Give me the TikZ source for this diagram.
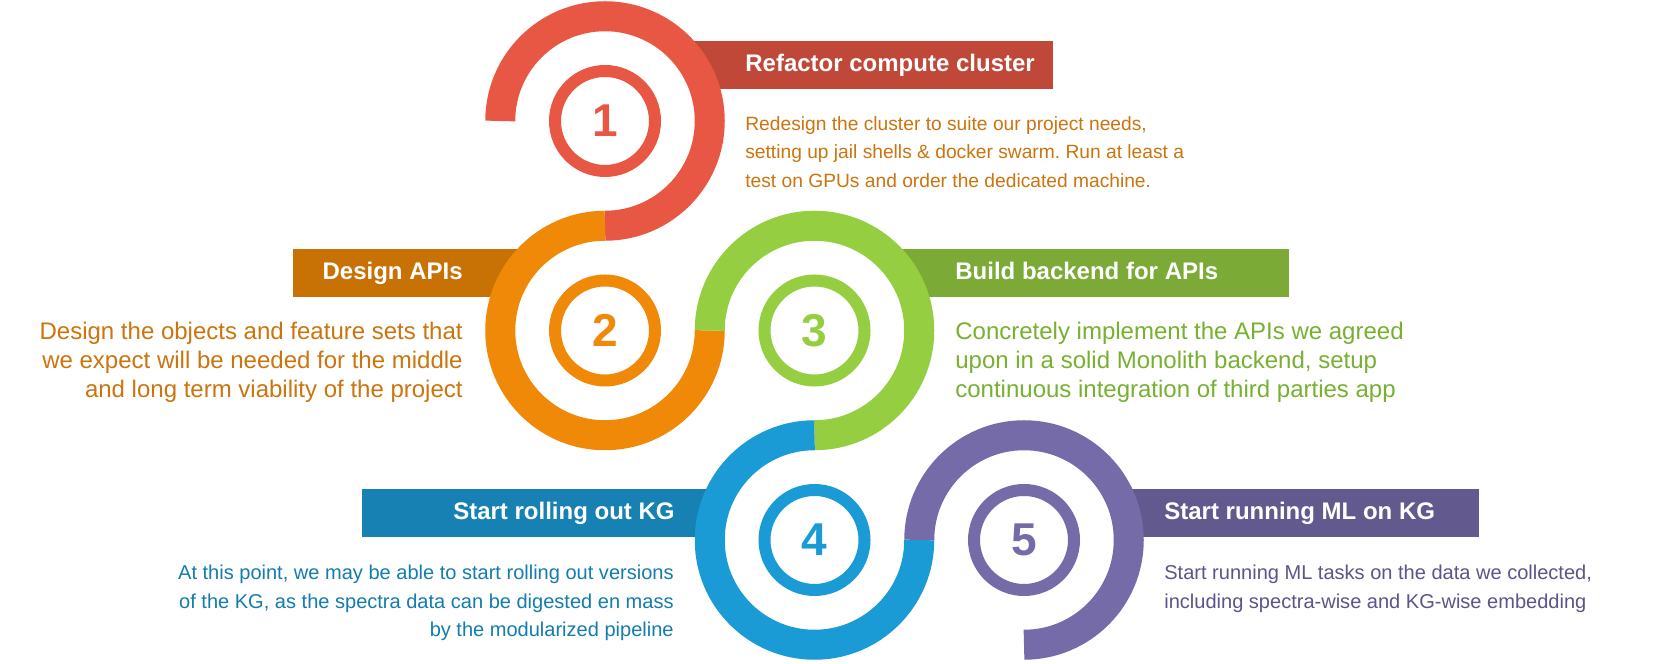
\documentclass[tikz,border=0pt]{standalone}
\usepackage{fontspec}
\setmainfont{Liberation Sans}
\frenchspacing
\usetikzlibrary{positioning}
\definecolor{redarc}{RGB}{232,87,68}
\definecolor{redbar}{RGB}{192,72,56}
\definecolor{orangearc}{RGB}{240,137,8}
\definecolor{orangebar}{RGB}{200,114,6}
\definecolor{orangetext}{RGB}{204,116,14}
\definecolor{greenarc}{RGB}{150,206,65}
\definecolor{greenbar}{RGB}{123,171,54}
\definecolor{greentext}{RGB}{120,176,48}
\definecolor{bluearc}{RGB}{26,155,214}
\definecolor{bluebar}{RGB}{22,129,178}
\definecolor{bluetext}{RGB}{20,124,174}
\definecolor{purplearc}{RGB}{117,107,168}
\definecolor{purplebar}{RGB}{98,90,142}
\definecolor{purpletext}{RGB}{92,84,138}
\tikzset{
  spiral/.style={draw=#1, line width=0.6cm},
  smallring/.style={draw=#1, line width=0.24cm},
  bignum/.style={text=#1, inner sep=0pt, font=\fontsize{26.2}{26.2}\selectfont\bfseries},
  titlebar/.style={fill=#1, inner sep=0pt, minimum height=0.96cm},
  titletext/.style={text=white, inner sep=0pt, font=\fontsize{13.66}{16}\selectfont\bfseries},
  bodybig/.style={text=#1, inner sep=0pt, font=\fontsize{13.66}{16.5}\selectfont},
  bodysmall/.style={text=#1, inner sep=0pt, font=\fontsize{10.93}{16.22}\selectfont},
  bodylow/.style={text=#1, inner sep=0pt, font=\fontsize{11.4}{16.22}\selectfont},
}
\begin{document}
\begin{tikzpicture}
      \useasboundingbox[fill=white] (0,0) rectangle (33.36,13.28);

      %% ---- centres of the five steps ----
      \coordinate (c1) at (12.10,10.86);
      \coordinate (c2) at (12.10,6.67);
      \coordinate (c3) at (16.29,6.67);
      \coordinate (c4) at (16.29,2.48);
      \coordinate (c5) at (20.48,2.48);

      %% ---- title bars (under the spiral) ----
      \node[titlebar=redbar, minimum width=7.26cm] (bar1) at (17.43,11.98) {};
      \node[titlebar=orangebar, minimum width=4.54cm] (bar2) at (8.13,7.82) {};
      \node[titlebar=greenbar, minimum width=7.82cm] (bar3) at (21.87,7.82) {};
      \node[titlebar=bluebar, minimum width=7.06cm] (bar4) at (10.77,3.01) {};
      \node[titlebar=purplebar, minimum width=7.18cm] (bar5) at (25.99,3.01) {};

      %% ---- spiral ----
      \foreach \c/\sa/\ea/\col in {c1/180/-90/redarc, c2/90/360/orangearc,
                                    c3/180/-90/greenarc, c4/90/360/bluearc,
                                    c5/180/-90/purplearc}{
        \draw[spiral=\col] (\c) ++(\sa:2.095) arc[start angle=\sa, end angle=\ea, radius=2.095];}

      %% ---- numbered rings ----
      \foreach \c/\col/\num in {c1/redarc/1, c2/orangearc/2, c3/greenarc/3,
                                 c4/bluearc/4, c5/purplearc/5}{
        \draw[smallring=\col] (\c) circle[radius=1.0];
        \node[bignum=\col] (num\num) at (\c) {\num};}

      %% ---- titles ----
      \node[titletext, anchor=base west] (title1) at (14.90,11.84) {Refactor compute cluster};
      \node[titletext, anchor=base east] (title2) at (9.26,7.68) {Design APIs};
      \node[titletext, anchor=base west] (title3) at (19.10,7.68) {Build backend for APIs};
      \node[titletext, anchor=base east] (title4) at (13.50,2.88) {Start rolling out KG};
      \node[titletext, anchor=base west] (title5) at (23.28,2.88) {Start running ML on KG};

      %% ---- descriptions (anchored on the last line) ----
      \node[bodysmall=orangetext, anchor=base west, align=left] (text1) at (14.90,9.53)
           {Redesign the cluster to suite our project needs,\\
            setting up jail shells \& docker swarm. Run at least a\\
            test on GPUs and order the dedicated machine.};
      \node[bodybig=orangetext, anchor=base east, align=right] (text2) at (9.26,5.33)
           {Design the objects and feature sets that\\
            we expect will be needed for the middle\\
            and long term viability of the project};
      \node[bodybig=greentext, anchor=base west, align=left] (text3) at (19.10,5.33)
           {Concretely implement the APIs we agreed\\
            upon in a solid Monolith backend, setup\\
            continuous integration of third parties app};
      \node[bodylow=bluetext, anchor=base east, align=right] (text4) at (13.48,0.54)
           {At this point, we may be able to start rolling out versions\\
            of the KG, as the spectra data can be digested en mass\\
            by the modularized pipeline};
      \node[bodylow=purpletext, anchor=base west, align=left] (text5) at (23.28,1.11)
           {Start running ML tasks on the data we collected,\\
            including spectra-wise and KG-wise embedding};
\end{tikzpicture}
\end{document}
